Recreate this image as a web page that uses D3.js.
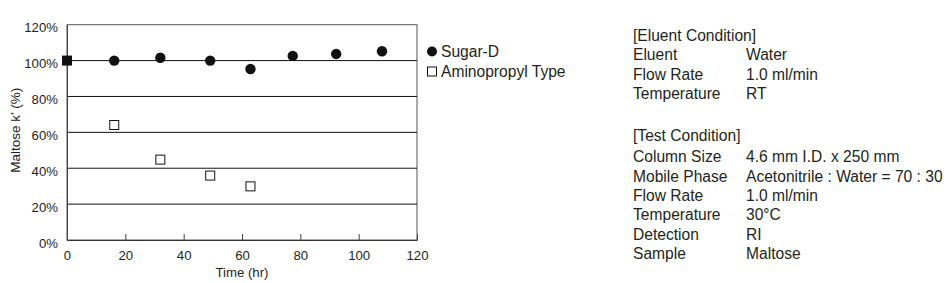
<!DOCTYPE html>
<html><head><meta charset="utf-8">
<script src="https://cdn.jsdelivr.net/npm/d3@7"></script>
<style>body{margin:0;background:#fff}svg{display:block}text{font-family:"Liberation Sans",Arial,sans-serif}</style>
</head><body><svg id="c" width="951" height="283"></svg>
<script>
const sugarTime = [16.2, 32, 49.1, 62.9, 77.4, 92.3, 108];
const sugarVal = [100, 101.6, 100, 95.3, 102.6, 103.7, 105.2];
const aminoTime = [16.2, 32, 49.1, 62.9];
const aminoVal = [64.1, 44.8, 35.9, 29.9];
const startTime = [0];
const startVal = [100];
const xTicks = [0, 20, 40, 60, 80, 100, 120];
const yTicks = [0, 20, 40, 60, 80, 100, 120];
const legendLabels = ["Sugar-D", "Aminopropyl Type"];
const eluentRows = [["Eluent", "Water"], ["Flow Rate", "1.0 ml/min"], ["Temperature", "RT"]];
const testRows = [["Column Size", "4.6 mm I.D. x 250 mm"], ["Mobile Phase", "Acetonitrile : Water = 70 : 30"], ["Flow Rate", "1.0 ml/min"], ["Temperature", "30\u00b0C"], ["Detection", "RI"], ["Sample", "Maltose"]];

const svg = d3.select("#c");
const L = 67, R = 417, T = 24.7, B = 240;
const x = d3.scaleLinear().domain([0, 120]).range([L, R]);
const y = d3.scaleLinear().domain([0, 120]).range([B, T]);
const tc = "#231f20";
const ff = '"Liberation Sans",Arial,sans-serif';

// frame
svg.append("rect").attr("x", L).attr("y", T).attr("width", R - L).attr("height", B - T)
  .attr("fill", "none").attr("stroke", "#555").attr("stroke-width", 1);
// gridlines
svg.append("g").selectAll("line").data(yTicks.filter(d => d > 0 && d < 120)).join("line")
  .attr("x1", L).attr("x2", R).attr("y1", d => y(d)).attr("y2", d => y(d))
  .attr("stroke", "#111").attr("stroke-width", 1);

// x axis
const xa = svg.append("g").attr("transform", `translate(0,${B})`)
  .call(d3.axisBottom(x).tickValues(xTicks).tickSizeInner(-6).tickSizeOuter(0).tickPadding(11));
xa.select(".domain").attr("stroke", "#333");
xa.selectAll(".tick line").attr("stroke", "#444");
xa.selectAll("text").attr("font-size", 13.2).attr("fill", tc).attr("font-family", ff);
// y axis
const ya = svg.append("g").attr("transform", `translate(${L},0)`)
  .call(d3.axisLeft(y).tickValues(yTicks).tickSize(0).tickPadding(9).tickFormat(d => d + "%"));
ya.select(".domain").attr("stroke", "#444");
ya.selectAll("text").attr("font-size", 13.2).attr("fill", tc).attr("font-family", ff).attr("dy", "0.55em");

svg.append("text").attr("x", (L + R) / 2).attr("y", 276.5).attr("text-anchor", "middle")
  .attr("font-size", 13.2).attr("fill", tc).text("Time (hr)");
svg.append("text").attr("transform", `translate(20,${(T + B) / 2 - 2}) rotate(-90)`).attr("text-anchor", "middle")
  .attr("font-size", 13.5).attr("fill", tc).text("Maltose k\u2019 (%)");

// points
const sq = 9;
svg.append("g").selectAll("rect").data(aminoTime.map((t, i) => [t, aminoVal[i]])).join("rect")
  .attr("x", d => x(d[0]) - sq / 2).attr("y", d => y(d[1]) - sq / 2).attr("width", sq).attr("height", sq)
  .attr("fill", "#fff").attr("stroke", "#111").attr("stroke-width", 1);
svg.append("g").selectAll("circle").data(sugarTime.map((t, i) => [t, sugarVal[i]])).join("circle")
  .attr("cx", d => x(d[0])).attr("cy", d => y(d[1])).attr("r", 5.2).attr("fill", "#111");
svg.append("g").selectAll("rect").data(startTime.map((t, i) => [t, startVal[i]])).join("rect")
  .attr("x", d => x(d[0]) - 5).attr("y", d => y(d[1]) - 5).attr("width", 10).attr("height", 10)
  .attr("fill", "#111");

// legend
svg.append("circle").attr("cx", 432).attr("cy", 51.5).attr("r", 5).attr("fill", "#111");
svg.append("rect").attr("x", 427.5).attr("y", 67).attr("width", 9).attr("height", 9)
  .attr("fill", "#fff").attr("stroke", "#111");
svg.append("g").selectAll("text").data(legendLabels).join("text")
  .attr("x", 441).attr("y", (d, i) => 51.5 + i * 20).attr("dy", "0.36em")
  .attr("font-size", 15.6).attr("fill", tc).text(d => d);

// conditions
const cx1 = 633, cx2 = 746, lh = 19.3;
const g = svg.append("g").attr("font-size", 15.6).attr("fill", tc);
g.append("text").attr("x", cx1).attr("y", 35.7).attr("dy", "0.36em").text("[Eluent Condition]");
eluentRows.forEach((r, i) => {
  g.append("text").attr("x", cx1).attr("y", 54.6 + i * lh).attr("dy", "0.36em").text(r[0]);
  g.append("text").attr("x", cx2).attr("y", 54.6 + i * lh).attr("dy", "0.36em").text(r[1]);
});
g.append("text").attr("x", cx1).attr("y", 135.7).attr("dy", "0.36em").text("[Test Condition]");
testRows.forEach((r, i) => {
  g.append("text").attr("x", cx1).attr("y", 156.7 + i * lh).attr("dy", "0.36em").text(r[0]);
  g.append("text").attr("x", cx2).attr("y", 156.7 + i * lh).attr("dy", "0.36em").text(r[1]);
});
</script></body></html>
